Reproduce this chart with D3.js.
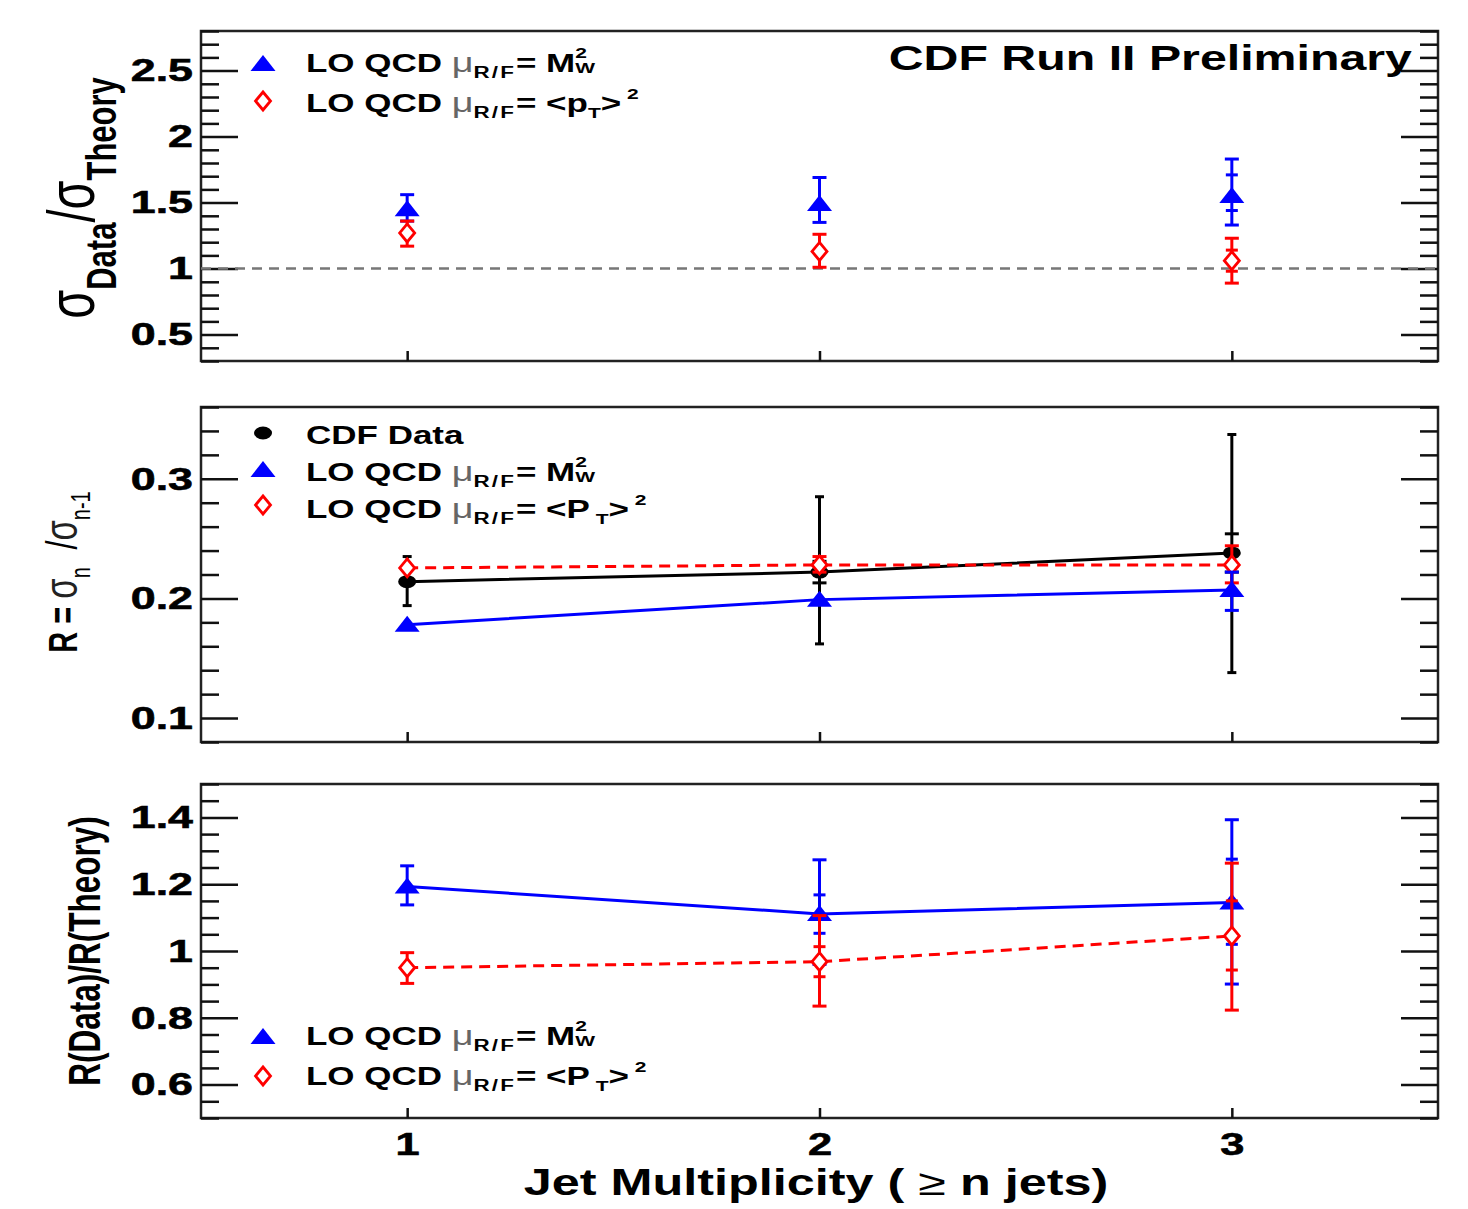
<!DOCTYPE html>
<html>
<head>
<meta charset="utf-8">
<script src="https://cdn.jsdelivr.net/npm/d3@7"></script>
<style>
  body { margin: 0; background: #fff; }
  text { white-space: pre; }
</style>
</head>
<body>
<svg id="chart" width="1468" height="1209"></svg>
<script>
// -------------------- DATA --------------------

const jetBins = [1, 2, 3];
const jetTickLabels = ["1", "2", "3"];

// top panel: sigma(data) / sigma(theory)
const xsecTicks = [0.5, 1, 1.5, 2, 2.5];
const xsecMw     = [1.45, 1.49, 1.55];
const xsecMwLo   = [1.36, 1.35, 1.33];
const xsecMwHi   = [1.56, 1.69, 1.83];
const xsecMwInLo = [null, null, 1.44];
const xsecMwInHi = [null, null, 1.71];
const xsecPt     = [1.27, 1.13, 1.06];
const xsecPtLo   = [1.17, 1.01, 0.89];
const xsecPtHi   = [1.36, 1.26, 1.23];
const xsecPtInLo = [null, null, 0.98];
const xsecPtInHi = [null, null, 1.14];

// middle panel: R = sigma_n / sigma_n-1
const rTicks = [0.1, 0.2, 0.3];
const rData     = [0.214, 0.222, 0.238];
const rDataLo   = [0.194, 0.162, 0.138];
const rDataHi   = [0.235, 0.285, 0.337];
const rDataInLo = [null, 0.213, 0.222];
const rDataInHi = [null, 0.231, 0.254];
const rMw   = [0.178, 0.199, 0.207];
const rMwLo = [null, null, 0.190];
const rMwHi = [null, null, 0.222];
const rPt   = [0.2255, 0.228, 0.228];
const rPtLo = [null, 0.222, 0.213];
const rPtHi = [null, 0.235, 0.244];

// bottom panel: R(data) / R(theory)
const rRatioTicks = [0.6, 0.8, 1, 1.2, 1.4];
const rRatioMw     = [1.193, 1.111, 1.145];
const rRatioMwLo   = [1.138, 0.96, 0.901];
const rRatioMwHi   = [1.255, 1.273, 1.393];
const rRatioMwInLo = [null, 1.053, 1.02];
const rRatioMwInHi = [null, 1.168, 1.275];
const rRatioPt     = [0.95, 0.968, 1.045];
const rRatioPtLo   = [0.903, 0.835, 0.823];
const rRatioPtHi   = [0.995, 1.106, 1.263];
const rRatioPtInLo = [null, 0.923, 0.943];
const rRatioPtInHi = [null, 1.013, 1.15];

// -------------------- HELPERS --------------------

const SX = 1.4; // the original picture is stretched sideways
const BLUE = "#0000ff", RED = "#ff0000";

function series(v, lo, hi, inLo, inHi) {
    return jetBins.map((n, i) => ({
        n, v: v[i],
        lo: lo ? lo[i] : null, hi: hi ? hi[i] : null,
        inLo: inLo ? inLo[i] : null, inHi: inHi ? inHi[i] : null
    }));
}

// draws a row of text pieces, each one placed after the previous one
function rich(parent, transform, pieces, anchor = "start") {
    const outer = parent.append("g").attr("transform", transform);
    const g = outer.append("g");
    let cx = 0, held = 0;
    for (const p of pieces) {
        const t = g.append("text")
            .attr("x", cx)
            .attr("y", p.dy || 0)
            .attr("font-size", p.size || 25)
            .attr("font-weight", p.bold === false ? "normal" : "bold")
            .attr("fill", p.fill || "#000")
            .attr("letter-spacing", p.ls || null)
            .text(p.t);
        const w = t.node().getComputedTextLength();
        if (p.hold) { held = w; continue; }
        cx += Math.max(w, held);
        held = 0;
    }
    if (anchor === "middle") g.attr("transform", `translate(${-cx / 2},0)`);
    if (anchor === "end") g.attr("transform", `translate(${-cx},0)`);
    return outer;
}

function marker(g, type, cx, cy, color) {
    if (type === "tri") {
        g.append("path")
            .attr("d", `M${cx},${cy - 9}L${cx + 12.5},${cy + 7}L${cx - 12.5},${cy + 7}Z`)
            .attr("fill", color);
    } else if (type === "dia") {
        g.append("path")
            .attr("d", `M${cx},${cy - 9}L${cx + 7.5},${cy}L${cx},${cy + 9}L${cx - 7.5},${cy}Z`)
            .attr("fill", "#fff").attr("stroke", color).attr("stroke-width", 2.8);
    } else {
        g.append("ellipse")
            .attr("cx", cx).attr("cy", cy).attr("rx", 9).attr("ry", 6.5)
            .attr("fill", color);
    }
}

const labelMw = [
    { t: "LO QCD " },
    { t: "μ", bold: false, fill: "#666", size: 27 },
    { t: "R/F", size: 16, dy: 6, ls: 1.5 },
    { t: "= " },
    { t: "M" },
    { t: "2", size: 15, dy: -14, hold: true },
    { t: "W", size: 15, dy: 1 }
];
const labelPtSmall = [
    { t: "LO QCD " },
    { t: "μ", bold: false, fill: "#666", size: 27 },
    { t: "R/F", size: 16, dy: 6, ls: 1.5 },
    { t: "= " },
    { t: "<" },
    { t: "p" },
    { t: "T", size: 15, dy: 6 },
    { t: ">" },
    { t: " 2", size: 15, dy: -13 }
];
const labelPtBig = [
    { t: "LO QCD " },
    { t: "μ", bold: false, fill: "#666", size: 27 },
    { t: "R/F", size: 16, dy: 6, ls: 1.5 },
    { t: "= " },
    { t: "<" },
    { t: "P" },
    { t: " T", size: 15, dy: 6 },
    { t: ">" },
    { t: " 2", size: 15, dy: -13 }
];
const labelData = [{ t: "CDF Data" }];

// -------------------- CHART --------------------

const svg = d3.select("#chart")
    .attr("font-family", "'Liberation Sans', Arial, Helvetica, sans-serif");
svg.append("rect").attr("width", 1468).attr("height", 1209).attr("fill", "#fff");

const x = d3.scaleLinear().domain([0.5, 3.5]).range([201, 1438]);
const xl = 201, xr = 1438;

const panels = [
    { top: 31, bottom: 361, domain: [0.3, 2.8], major: xsecTicks, minor: 0.1 },
    { top: 407, bottom: 742, domain: [0.08, 0.36], major: rTicks, minor: 0.02 },
    { top: 784, bottom: 1118, domain: [0.5, 1.5], major: rRatioTicks, minor: 0.05 }
];

function minorTicks(p) {
    const k0 = Math.ceil(p.domain[0] / p.minor - 1e-6), k1 = Math.floor(p.domain[1] / p.minor + 1e-6);
    return d3.range(k0, k1 + 1).map(k => +(k * p.minor).toFixed(4))
        .filter(v => !p.major.some(m => Math.abs(m - v) < 1e-6));
}

function drawFrame(p, y, last) {
    const g = svg.append("g");
    g.append("rect")
        .attr("x", xl).attr("y", p.top)
        .attr("width", xr - xl).attr("height", p.bottom - p.top)
        .attr("fill", "none").attr("stroke", "#222").attr("stroke-width", 2.5);

    const style = sel => {
        sel.select(".domain").remove();
        sel.selectAll("line").attr("stroke", "#111").attr("stroke-width", 2.5);
    };

    // left major with labels
    g.append("g").attr("transform", `translate(${xl},0)`)
        .call(d3.axisLeft(y).tickValues(p.major).tickSize(-37).tickPadding(8).tickFormat(d => String(d)))
        .call(style)
        .call(a => a.selectAll("text")
            .attr("x", -8 / SX)
            .attr("transform", `scale(${SX},1)`)
            .attr("font-size", 32).attr("font-weight", "bold")
            .attr("stroke", "#000").attr("stroke-width", 0.6)
            .attr("font-family", null).attr("fill", "#000"));
    g.append("g").attr("transform", `translate(${xl},0)`)
        .call(d3.axisLeft(y).tickValues(minorTicks(p)).tickSize(-18).tickFormat(""))
        .call(style);
    g.append("g").attr("transform", `translate(${xr},0)`)
        .call(d3.axisRight(y).tickValues(p.major).tickSize(-37).tickFormat(""))
        .call(style);
    g.append("g").attr("transform", `translate(${xr},0)`)
        .call(d3.axisRight(y).tickValues(minorTicks(p)).tickSize(-18).tickFormat(""))
        .call(style);

    g.append("g").attr("transform", `translate(0,${p.bottom})`)
        .call(d3.axisBottom(x).tickValues(jetBins).tickSize(-10).tickPadding(15)
            .tickFormat((d, i) => last ? jetTickLabels[i] : ""))
        .call(style)
        .call(a => a.selectAll("text")
            .attr("transform", `scale(${SX},1)`)
            .attr("font-size", 31).attr("font-weight", "bold")
            .attr("stroke", "#000").attr("stroke-width", 0.6)
            .attr("font-family", null).attr("fill", "#000"));
}

function drawErrors(g, data, y, color, capW, inCapW, sw) {
    data.forEach(d => {
        if (d.lo == null) return;
        const cx = x(d.n);
        g.append("line").attr("x1", cx).attr("x2", cx)
            .attr("y1", y(d.lo)).attr("y2", y(d.hi))
            .attr("stroke", color).attr("stroke-width", sw);
        [d.lo, d.hi].forEach(v => g.append("line")
            .attr("x1", cx - capW / 2).attr("x2", cx + capW / 2)
            .attr("y1", y(v)).attr("y2", y(v))
            .attr("stroke", color).attr("stroke-width", sw));
        [d.inLo, d.inHi].forEach(v => {
            if (v == null) return;
            g.append("line")
                .attr("x1", cx - inCapW / 2).attr("x2", cx + inCapW / 2)
                .attr("y1", y(v)).attr("y2", y(v))
                .attr("stroke", color).attr("stroke-width", sw);
        });
    });
}

function drawSeries(g, data, y, opt) {
    if (opt.line) {
        g.append("path")
            .datum(data)
            .attr("d", d3.line().x(d => x(d.n)).y(d => y(d.v)))
            .attr("fill", "none").attr("stroke", opt.color).attr("stroke-width", 3)
            .attr("stroke-dasharray", opt.dash || null);
    }
    drawErrors(g, data, y, opt.color, opt.cap || 14, opt.inCap || 12, 3);
    data.forEach(d => marker(g, opt.marker, x(d.n), y(d.v), opt.color));
}

function drawLegend(entries) {
    entries.forEach(e => {
        marker(svg, e.marker, 263, e.my, e.color);
        rich(svg, `translate(306,${e.base}) scale(${SX},1)`, e.label);
    });
}

const ys = panels.map(p => d3.scaleLinear().domain(p.domain).range([p.bottom, p.top]));
panels.forEach((p, i) => drawFrame(p, ys[i], i === panels.length - 1));

// ---- top panel
{
    const y = ys[0], g = svg.append("g");
    g.append("line")
        .attr("x1", xl).attr("x2", xr).attr("y1", y(1)).attr("y2", y(1))
        .attr("stroke", "#777").attr("stroke-width", 2.5).attr("stroke-dasharray", "10,7");
    drawSeries(g, series(xsecMw, xsecMwLo, xsecMwHi, xsecMwInLo, xsecMwInHi), y, { color: BLUE, marker: "tri" });
    drawSeries(g, series(xsecPt, xsecPtLo, xsecPtHi, xsecPtInLo, xsecPtInHi), y, { color: RED, marker: "dia" });

    drawLegend([
        { marker: "tri", color: BLUE, my: 64, base: 72, label: labelMw },
        { marker: "dia", color: RED, my: 101, base: 112, label: labelPtSmall }
    ]);
    rich(svg, `translate(1412,70) scale(${SX},1)`, [{ t: "CDF Run II Preliminary", size: 34.5 }], "end");

    rich(svg, `translate(94,198) scale(${SX},1) rotate(-90)`, [
        { t: "σ", bold: false, size: 47 },
        { t: "Data", size: 31, dy: 16 },
        { t: "/", bold: false, size: 47 },
        { t: "σ", bold: false, size: 47 },
        { t: "Theory", size: 31, dy: 16 }
    ], "middle");
}

// ---- middle panel
{
    const y = ys[1], g = svg.append("g");
    drawSeries(g, series(rData, rDataLo, rDataHi, rDataInLo, rDataInHi), y, { color: "#000", marker: "dot", line: true, cap: 9, inCap: 14 });
    drawSeries(g, series(rPt, rPtLo, rPtHi), y, { color: RED, marker: "dia", line: true, dash: "11,7" });
    drawSeries(g, series(rMw, rMwLo, rMwHi), y, { color: BLUE, marker: "tri", line: true });

    drawLegend([
        { marker: "dot", color: "#000", my: 433, base: 444, label: labelData },
        { marker: "tri", color: BLUE, my: 470, base: 481, label: labelMw },
        { marker: "dia", color: RED, my: 505, base: 518, label: labelPtBig }
    ]);

    rich(svg, `translate(77,572) scale(${SX},1) rotate(-90)`, [
        { t: "R = ", size: 29 },
        { t: "σ", bold: false, size: 33, fill: "#222" },
        { t: "n", bold: false, size: 20, dy: 9 },
        { t: "  /", bold: false, size: 32 },
        { t: "σ", bold: false, size: 33, fill: "#222" },
        { t: "n-1", bold: false, size: 20, dy: 9 }
    ], "middle");
}

// ---- bottom panel
{
    const y = ys[2], g = svg.append("g");
    drawSeries(g, series(rRatioMw, rRatioMwLo, rRatioMwHi, rRatioMwInLo, rRatioMwInHi), y, { color: BLUE, marker: "tri", line: true });
    drawSeries(g, series(rRatioPt, rRatioPtLo, rRatioPtHi, rRatioPtInLo, rRatioPtInHi), y, { color: RED, marker: "dia", line: true, dash: "11,7" });

    drawLegend([
        { marker: "tri", color: BLUE, my: 1037, base: 1045, label: labelMw },
        { marker: "dia", color: RED, my: 1076, base: 1085, label: labelPtBig }
    ]);

    rich(svg, `translate(100,951) scale(${SX},1) rotate(-90)`, [
        { t: "R(Data)/R(Theory)", size: 31.5 }
    ], "middle");

    rich(svg, `translate(816,1195) scale(${SX},1)`, [
        { t: "Jet Multiplicity ( ", size: 36 },
        { t: "≥", bold: false, size: 36 },
        { t: " n jets)", size: 36 }
    ], "middle");
}
</script>
</body>
</html>
